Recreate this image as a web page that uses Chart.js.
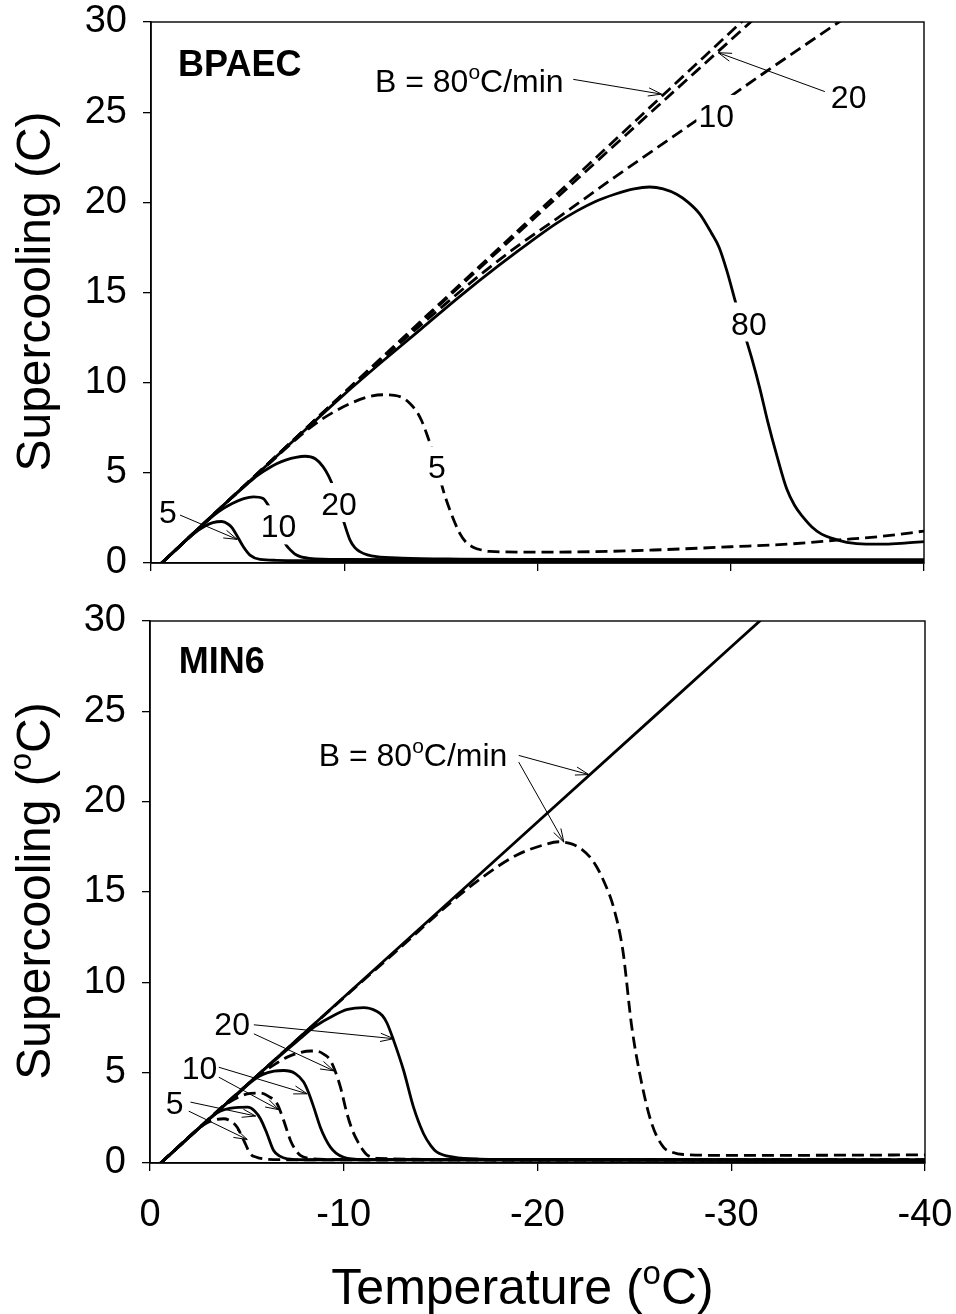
<!DOCTYPE html>
<html><head><meta charset="utf-8">
<script src="https://cdn.jsdelivr.net/npm/chart.js@4.4.1/dist/chart.umd.min.js"></script>
<style>
html,body{margin:0;padding:0;background:#fff;}
#wrap{position:relative;width:956px;height:1314px;background:#fff;}
.panel{position:absolute;left:0;width:956px;}
</style></head><body>
<div id="wrap">
  <div class="panel" style="top:0;height:600px"><canvas id="c1"></canvas></div>
  <div class="panel" style="top:600px;height:714px"><canvas id="c2"></canvas></div>
</div>
<script>
// ---------- data: [temperature (°C), supercooling] ----------
const xTicks = [0, -10, -20, -30, -40];
const yTicks = [0, 5, 10, 15, 20, 25, 30];

// BPAEC panel
const bpaecDash80 = [[-0.55,0],[-5,4.45],[-10,9.45],[-15,14.45],[-20,19.45],[-25,24.45],[-30,29.45],[-35,34.45],[-40,39.45]];
const bpaecDash20 = [[-0.55,0],[-5,4.45],[-10,9.43],[-15,14.38],[-20,19.28],[-25,24.15],[-30,29.0],[-35,33.85],[-40,38.7]];
const bpaecDash10 = [[-0.55,0],[-5,4.45],[-10,9.42],[-13,12.3],[-15,14.15],[-17,15.95],[-19,17.6],[-21,19.1],[-24,21.4],[-27.7,24.15],[-31.76,27.2],[-35.6,30],[-40,33.2]];
const bpaecDash5 = [[-0.55,0],[-4,3.45],[-6,5.4],[-7.5,6.85],[-8.5,7.72],[-9.5,8.4],[-10.3,8.84],[-11.2,9.2],[-12,9.33],[-12.6,9.3],[-13.05,9.15],[-13.4,8.85],[-13.75,8.4],[-14,7.9],[-14.26,7.18],[-14.6,6.1],[-14.9,4.95],[-15.12,4.04],[-15.47,2.93],[-15.98,1.64],[-16.3,1.15],[-16.67,0.88],[-17.1,0.72],[-17.54,0.64],[-20,0.6],[-23,0.63],[-26,0.72],[-30,0.9],[-33,1.05],[-35.5,1.27],[-38,1.5],[-40,1.77]];
const bpaecSolid80 = [[-0.55,0],[-4,3.45],[-8,7.4],[-10,9.35],[-12,11.2],[-14,13.0],[-16,14.8],[-18,16.5],[-20,18.1],[-21,18.85],[-22,19.5],[-23,20.05],[-24,20.45],[-25,20.75],[-25.8,20.85],[-26.5,20.75],[-27.2,20.45],[-27.8,20.0],[-28.4,19.35],[-29,18.3],[-29.4,17.5],[-29.8,16.2],[-30.2,14.65],[-30.6,13.1],[-31.1,11.3],[-31.5,9.7],[-31.9,7.9],[-32.4,5.9],[-32.9,4.1],[-33.3,3.2],[-33.7,2.6],[-34.2,2.0],[-34.7,1.6],[-35.3,1.35],[-36,1.15],[-37,1.05],[-38,1.05],[-39,1.1],[-40,1.18]];
const bpaecSolid20 = [[-0.55,0],[-4,3.45],[-5,4.4],[-5.5,4.85],[-6,5.2],[-6.5,5.5],[-7,5.72],[-7.5,5.86],[-7.97,5.92],[-8.5,5.78],[-8.91,5.33],[-9.2,4.8],[-9.43,4.22],[-9.7,3.3],[-9.95,2.38],[-10.3,1.27],[-10.55,0.85],[-10.81,0.63],[-11.2,0.45],[-11.67,0.35],[-13,0.27],[-16,0.22],[-20,0.2],[-30,0.18],[-40,0.18]];
const bpaecSolid10 = [[-0.55,0],[-2.5,1.95],[-3.5,2.85],[-4.2,3.3],[-4.8,3.57],[-5.3,3.67],[-5.8,3.58],[-6.07,3.2],[-6.3,2.7],[-6.6,1.95],[-6.93,1.1],[-7.1,0.85],[-7.53,0.44],[-8.2,0.26],[-10,0.2],[-20,0.17],[-40,0.15]];
const bpaecSolid5 = [[-0.55,0],[-1.5,0.95],[-2.2,1.62],[-2.8,2.05],[-3.2,2.24],[-3.66,2.3],[-4.0,2.15],[-4.2,1.95],[-4.43,1.55],[-4.78,0.9],[-5.12,0.44],[-5.64,0.2],[-6.5,0.15],[-10,0.13],[-20,0.12],[-40,0.12]];

// MIN6 panel
const min6Solid80 = [[-0.55,0],[-10,9.17],[-20,18.87],[-30,28.57],[-40,38.27]];
const min6Dash80 = [[-0.55,0],[-5,4.32],[-10,9.15],[-13,12.0],[-15.5,14.4],[-17.2,15.85],[-18.94,17.05],[-20.3,17.6],[-21.1,17.78],[-21.8,17.65],[-22.3,17.35],[-22.7,16.94],[-23.05,16.4],[-23.4,15.65],[-23.92,14.17],[-24.4,11.8],[-24.87,7.5],[-25.38,4.4],[-25.9,2.17],[-26.5,0.88],[-27.0,0.58],[-27.53,0.47],[-30,0.42],[-35,0.43],[-40,0.45]];
const min6Solid20 = [[-0.55,0],[-5,4.32],[-6,5.28],[-7,6.2],[-7.76,6.9],[-8.5,7.55],[-9.48,8.17],[-10.2,8.5],[-11.03,8.6],[-11.7,8.4],[-12.0,8.15],[-12.23,7.75],[-12.57,6.8],[-13.09,5.12],[-13.6,3.09],[-14.12,1.62],[-14.5,0.95],[-14.81,0.6],[-15.67,0.32],[-17,0.22],[-20,0.2],[-40,0.18]];
const min6Dash20 = [[-0.55,0],[-5,4.32],[-5.8,5.0],[-6.5,5.5],[-7.08,5.86],[-7.76,6.12],[-8.3,6.2],[-8.62,6.19],[-9.0,6.0],[-9.3,5.7],[-9.55,5.1],[-9.83,4.2],[-10.17,2.72],[-10.45,1.8],[-10.69,1.25],[-11.0,0.7],[-11.2,0.45],[-11.8,0.26],[-15,0.2],[-40,0.18]];
const min6Solid10 = [[-0.55,0],[-4,3.35],[-4.5,3.8],[-5.18,4.45],[-5.8,4.88],[-6.4,5.08],[-6.9,5.12],[-7.5,4.95],[-7.93,4.48],[-8.2,3.85],[-8.45,3.09],[-8.79,1.98],[-9.05,1.35],[-9.31,0.88],[-9.6,0.55],[-10.0,0.32],[-11,0.2],[-40,0.15]];
const min6Dash10 = [[-0.55,0],[-3.5,2.86],[-4.0,3.3],[-4.67,3.7],[-5.2,3.85],[-5.7,3.87],[-6.1,3.7],[-6.56,3.28],[-6.9,2.35],[-7.25,1.25],[-7.5,0.75],[-7.76,0.42],[-8.3,0.25],[-9,0.2],[-40,0.15]];
const min6Solid5 = [[-0.55,0],[-3.0,2.38],[-3.5,2.8],[-4.1,3.02],[-4.6,3.08],[-5.04,3.09],[-5.4,2.88],[-5.7,2.45],[-6.04,1.62],[-6.38,0.69],[-6.7,0.38],[-7.08,0.23],[-8,0.18],[-40,0.14]];
const min6Dash5 = [[-0.55,0],[-2.5,1.9],[-2.9,2.2],[-3.3,2.38],[-3.81,2.45],[-4.2,2.3],[-4.5,1.98],[-4.84,1.25],[-5.18,0.51],[-5.5,0.32],[-5.87,0.23],[-7,0.18],[-40,0.14]];

// annotations (data coordinates)
const bpaecLabels = [
  {text:'BPAEC', t:-1.4, v:27.0, bold:true, align:'left'},
  {text:'B = 80^oC/min', t:-11.59, v:26.14, align:'left'},
  {text:'20', t:-36.1, v:25.25},
  {text:'10', t:-29.25, v:24.18, box:true},
  {text:'80', t:-30.94, v:12.67, box:true},
  {text:'5', t:-14.8, v:4.69, box:true},
  {text:'20', t:-9.73, v:2.66, box:true},
  {text:'10', t:-6.6, v:1.42, box:true},
  {text:'5', t:-0.88, v:2.23}
];
const bpaecArrows = [
  {from:[-21.85,26.82], to:[-26.42,26.0]},
  {from:[-34.87,26.14], to:[-29.35,28.3]},
  {from:[-1.5,2.66], to:[-4.46,1.31]}
];
const min6Labels = [
  {text:'MIN6', t:-1.49, v:27.12, bold:true, align:'left'},
  {text:'B = 80^oC/min', t:-8.71, v:21.97, align:'left'},
  {text:'20', t:-4.24, v:7.06},
  {text:'10', t:-2.56, v:4.66},
  {text:'5', t:-1.27, v:2.72}
];
const min6Arrows = [
  {from:[-19.03,22.56], to:[-22.65,21.5]},
  {from:[-19.03,22.19], to:[-21.36,17.76]},
  {from:[-5.36,7.65], to:[-12.58,6.88]},
  {from:[-5.36,7.15], to:[-9.49,5.1]},
  {from:[-3.55,5.3], to:[-8.11,3.83]},
  {from:[-3.55,4.75], to:[-6.65,2.95]},
  {from:[-2.09,3.37], to:[-5.45,2.6]},
  {from:[-2.0,2.87], to:[-5.02,1.3]}
];

// ---------- drawing ----------
const FONT = '"Liberation Sans", Arial, Helvetica, sans-serif';

function parseRich(s){
  const parts=[]; let buf='';
  for(let i=0;i<s.length;i++){
    if(s[i]==='^' && i+1<s.length){ if(buf){parts.push([buf,false]);buf='';} parts.push([s[i+1],true]); i++; }
    else buf+=s[i];
  }
  if(buf) parts.push([buf,false]);
  return parts;
}
function drawRich(ctx, s, x, y, size, align, bold){
  const parts=parseRich(s);
  const w=[]; let tot=0;
  parts.forEach(p=>{ ctx.font=(bold?'bold ':'')+(p[1]?Math.round(size*0.65):size)+'px '+FONT; const m=ctx.measureText(p[0]).width; w.push(m); tot+=m; });
  let cx = align==='center'? x-tot/2 : (align==='right'? x-tot : x);
  const x0=cx;
  ctx.textAlign='left'; ctx.textBaseline='alphabetic';
  parts.forEach((p,i)=>{ ctx.font=(bold?'bold ':'')+(p[1]?Math.round(size*0.65):size)+'px '+FONT; ctx.fillText(p[0], cx, p[1]? y-size*0.40 : y); cx+=w[i]; });
  return {left:x0, width:tot};
}
function arrow(ctx, x1,y1,x2,y2){
  ctx.save(); ctx.strokeStyle='#000'; ctx.lineWidth=1; ctx.setLineDash([]);
  ctx.beginPath(); ctx.moveTo(x1,y1); ctx.lineTo(x2,y2); ctx.stroke();
  const a=Math.atan2(y2-y1,x2-x1), L=14, h=0.30;
  ctx.beginPath();
  ctx.moveTo(x2-L*Math.cos(a-h), y2-L*Math.sin(a-h)); ctx.lineTo(x2,y2);
  ctx.lineTo(x2-L*Math.cos(a+h), y2-L*Math.sin(a+h)); ctx.stroke();
  ctx.restore();
}

const decor = {
  id:'decor',
  afterDatasetsDraw(chart, args, o){
    const ctx=chart.ctx, xs=chart.scales.x, ys=chart.scales.y, ca=chart.chartArea;
    ctx.save();
    ctx.strokeStyle='#000'; ctx.lineWidth=1.4; ctx.setLineDash([]);
    ctx.strokeRect(ca.left, ca.top, ca.right-ca.left, ca.bottom-ca.top);
    ctx.fillStyle='#000';
    o.labels.forEach(l=>{
      const px=xs.getPixelForValue(l.t), py=ys.getPixelForValue(l.v);
      const size = l.bold? 36 : 32;
      if(l.box){
        ctx.font=size+'px '+FONT;
        const w=ctx.measureText(l.text).width;
        ctx.fillStyle='#fff';
        ctx.fillRect(px-w/2-2, py-size*0.72-9, w+4, size*0.72+16);
        ctx.fillStyle='#000';
      }
      drawRich(ctx, l.text, px, py, size, l.align||'center', l.bold);
    });
    o.arrows.forEach(a=>{
      arrow(ctx, xs.getPixelForValue(a.from[0]), ys.getPixelForValue(a.from[1]), xs.getPixelForValue(a.to[0]), ys.getPixelForValue(a.to[1]));
    });
    ctx.restore();
  },
  afterDraw(chart, args, o){
    const ctx=chart.ctx, ca=chart.chartArea;
    ctx.save(); ctx.fillStyle='#000';
    ctx.translate(o.yTitleX, (ca.top+ca.bottom)/2 - 1);
    ctx.rotate(-Math.PI/2);
    drawRich(ctx, o.yTitle, 0, 0, 48, 'center');
    ctx.restore();
    if(o.xTitle){
      ctx.save(); ctx.fillStyle='#000';
      drawRich(ctx, o.xTitle, (ca.left+ca.right)/2 - 15, ca.bottom + 141, 50, 'center');
      ctx.restore();
    }
  }
};
Chart.register(decor);

function ds(pts, dash){
  return {data: pts.map(p=>({x:p[0], y:p[1]})), borderColor:'#000', backgroundColor:'#000',
    borderWidth:2.8, borderDash: dash?[12,6]:[], pointRadius:0, fill:false,
    cubicInterpolationMode:'monotone', borderCapStyle:'butt', borderJoinStyle:'round'};
}

function zeroPad(s){ s.paddingLeft=0; s.paddingRight=0; s.paddingTop=0; s.paddingBottom=0; }

function makeChart(id, datasets, cfg){
  const axisGrid = {display:true, drawOnChartArea:false, drawTicks:true, tickLength:8, color:'#000', lineWidth:1.3};
  return new Chart(document.getElementById(id), {
    type:'line',
    data:{datasets},
    options:{
      responsive:true, maintainAspectRatio:false, animation:false, events:[],
      layout:{padding:{top:cfg.top, right:cfg.right, left:0, bottom:0}},
      plugins:{legend:{display:false}, tooltip:{enabled:false},
        decor:{labels:cfg.labels, arrows:cfg.arrows, yTitle:cfg.yTitle, yTitleX:50, xTitle:cfg.xTitle}},
      scales:{
        x:{type:'linear', reverse:true, min:xTicks[xTicks.length-1], max:xTicks[0],
          afterFit(s){ s.height=cfg.xh; zeroPad(s); },
          afterBuildTicks(s){ s.ticks = xTicks.map(v=>({value:v})); },
          ticks:{color: cfg.showX? '#000':'rgba(0,0,0,0)', font:{family:FONT, size:38, lineHeight:1}, padding:26, maxRotation:0, autoSkip:false},
          grid:axisGrid, border:{display:true, color:'#000', width:1.5}},
        y:{type:'linear', min:yTicks[0], max:yTicks[yTicks.length-1],
          afterFit(s){ s.width=cfg.yw; zeroPad(s); },
          afterBuildTicks(s){ s.ticks = yTicks.map(v=>({value:v})); },
          ticks:{color:'#000', font:{family:FONT, size:38, lineHeight:1}, padding:16, autoSkip:false},
          grid:axisGrid, border:{display:true, color:'#000', width:1.5}}
      }
    }
  });
}

makeChart('c1', [
  ds(bpaecDash80,true), ds(bpaecDash20,true), ds(bpaecDash10,true), ds(bpaecDash5,true),
  ds(bpaecSolid80,false), ds(bpaecSolid20,false), ds(bpaecSolid10,false), ds(bpaecSolid5,false)
], {top:22, right:32, xh:37, yw:151, showX:false, labels:bpaecLabels, arrows:bpaecArrows, yTitle:'Supercooling (C)'});

makeChart('c2', [
  ds(min6Solid80,false), ds(min6Dash80,true), ds(min6Solid20,false), ds(min6Dash20,true),
  ds(min6Solid10,false), ds(min6Dash10,true), ds(min6Solid5,false), ds(min6Dash5,true)
], {top:21, right:31, xh:151, yw:150, showX:true, labels:min6Labels, arrows:min6Arrows, yTitle:'Supercooling (^oC)', xTitle:'Temperature (^oC)'});
</script>
</body></html>
